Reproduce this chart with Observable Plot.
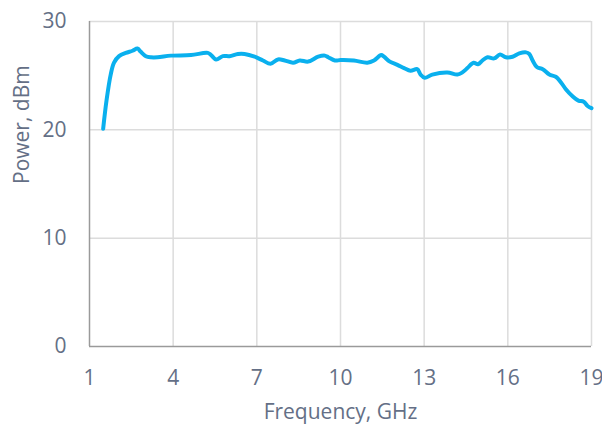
<!DOCTYPE html>
<html>
<head>
<meta charset="utf-8">
<script src="https://cdn.jsdelivr.net/npm/d3@7"></script>
<script src="https://cdn.jsdelivr.net/npm/@observablehq/plot@0.6"></script>
<style>
  html, body { margin: 0; padding: 0; background: #fff; }
  #chart svg { display: block; font-family: "Open Sans", sans-serif; }
</style>
</head>
<body>
<div id="chart"></div>
<script>
const freq = [1.49, 1.61, 1.76, 1.88, 2.06, 2.30, 2.54, 2.72, 2.84, 3.02, 3.20, 3.44, 3.92, 4.64, 5.24, 5.36, 5.54, 5.78, 6.02, 6.32, 6.56, 6.92, 7.22, 7.49, 7.76, 8.00, 8.30, 8.54, 8.84, 9.20, 9.44, 9.56, 9.80, 10.00, 10.48, 10.96, 11.20, 11.46, 11.56, 11.77, 12.04, 12.28, 12.51, 12.75, 12.87, 13.02, 13.29, 13.83, 14.19, 14.37, 14.55, 14.77, 14.93, 15.09, 15.27, 15.51, 15.72, 15.93, 16.17, 16.41, 16.65, 16.77, 16.89, 17.04, 17.25, 17.49, 17.72, 17.90, 18.08, 18.32, 18.53, 18.72, 18.86, 19.00];
const power = [20.1, 22.7, 25.1, 26.2, 26.8, 27.1, 27.3, 27.5, 27.2, 26.8, 26.7, 26.7, 26.85, 26.9, 27.1, 26.9, 26.5, 26.8, 26.8, 27.0, 27.0, 26.75, 26.4, 26.1, 26.5, 26.4, 26.2, 26.4, 26.3, 26.75, 26.85, 26.7, 26.4, 26.44, 26.4, 26.2, 26.4, 26.9, 26.75, 26.3, 26.0, 25.7, 25.45, 25.6, 25.1, 24.8, 25.1, 25.3, 25.1, 25.3, 25.7, 26.2, 26.05, 26.4, 26.7, 26.6, 26.95, 26.7, 26.75, 27.05, 27.15, 27.0, 26.4, 25.8, 25.6, 25.1, 24.9, 24.4, 23.75, 23.1, 22.7, 22.6, 22.2, 22.0];
const xTicks = [1, 4, 7, 10, 13, 16, 19];
const yTicks = [0, 10, 20, 30];

const data = freq.map((f, i) => ({f, p: power[i]}));

const textColor = "#646f86";
const chart = Plot.plot({
  width: 602,
  height: 428,
  marginTop: 21,
  marginBottom: 82,
  marginLeft: 89,
  marginRight: 11,
  style: {fontSize: "21px", color: textColor, background: "#fff"},
  x: {domain: [1, 19], ticks: xTicks, label: null},
  y: {domain: [0, 30], ticks: yTicks, label: null},
  marks: [
    Plot.gridX(xTicks.filter(d => d !== 1), {stroke: "#dcdcdc", strokeOpacity: 1, strokeWidth: 1.5}),
    Plot.gridY(yTicks.filter(d => d !== 0), {stroke: "#dcdcdc", strokeOpacity: 1, strokeWidth: 1.5}),
    Plot.axisX({ticks: xTicks, tickSize: 0, tickPadding: 24, fontSize: 21, fill: textColor, label: null}),
    Plot.axisY({ticks: yTicks, tickSize: 0, tickPadding: 23, fontSize: 21, fill: textColor, label: null}),
    Plot.text(["Frequency, GHz"], {frameAnchor: "bottom", dy: 72, fontSize: 21, fill: textColor}),
    Plot.text(["Power, dBm"], {frameAnchor: "left", dx: -67, rotate: -90, fontSize: 21, fill: textColor}),
    Plot.ruleX([1], {stroke: "#9a9a9a", strokeWidth: 1.5}),
    Plot.ruleY([0], {stroke: "#9a9a9a", strokeWidth: 1.5}),
    Plot.line(data, {x: "f", y: "p", stroke: "#0ab0ee", strokeWidth: 4, curve: "catmull-rom"})
  ]
});
document.getElementById("chart").appendChild(chart);
</script>
</body>
</html>
